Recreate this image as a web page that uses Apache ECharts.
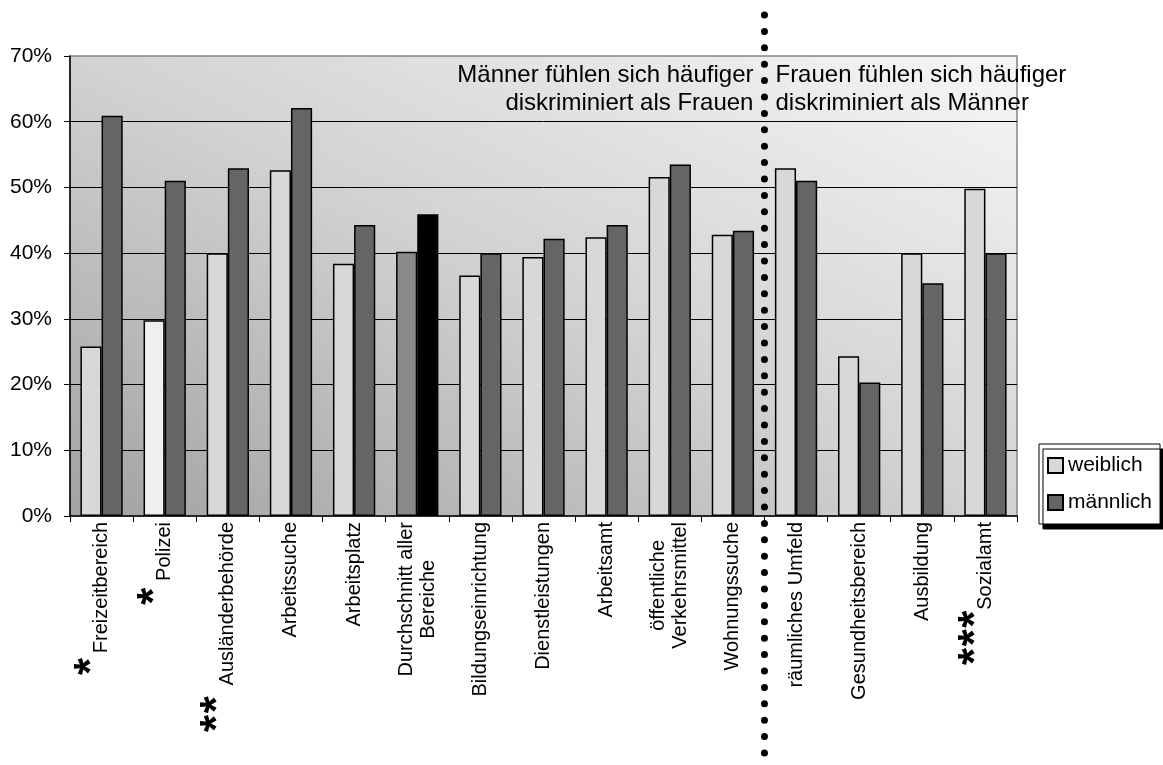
<!DOCTYPE html>
<html>
<head>
<meta charset="utf-8">
<script src="https://cdn.jsdelivr.net/npm/echarts@6/dist/echarts.min.js"></script>
<style>
  html, body { margin: 0; padding: 0; background: #fff; }
  #chart { width: 1163px; height: 765px; }
</style>
</head>
<body>
<div id="chart"></div>
<script>
// Erlebte Diskriminierung nach Bereich und Geschlecht (Anteil in %)
const categories = [
  'Freizeitbereich', 'Polizei', 'Ausländerbehörde', 'Arbeitssuche', 'Arbeitsplatz',
  'Durchschnitt aller\nBereiche', 'Bildungseinrichtung', 'Dienstleistungen', 'Arbeitsamt',
  'öffentliche\nVerkehrsmittel', 'Wohnungssuche', 'räumliches Umfeld',
  'Gesundheitsbereich', 'Ausbildung', 'Sozialamt'
];
const weiblich  = [25.8, 29.8, 40.0, 52.6, 38.4, 40.2, 36.6, 39.4, 42.4, 51.6, 42.8, 52.9, 24.3, 40.0, 49.8];
const maennlich = [60.9, 51.0, 52.9, 62.1, 44.3, 45.9, 40.0, 42.2, 44.3, 53.5, 43.4, 51.0, 20.3, 35.4, 40.0];
// Signifikanzsterne je Bereich
const sterne = [1, 1, 2, 0, 0, 0, 0, 0, 0, 0, 0, 0, 0, 0, 3];
const yTicks = [0, 10, 20, 30, 40, 50, 60, 70];
const hinweisLinks = ['Männer fühlen sich häufiger', 'diskriminiert als Frauen'];
const hinweisRechts = ['Frauen fühlen sich häufiger', 'diskriminiert als Männer'];

const FONT = "'Liberation Sans', Arial, sans-serif";
const cWeiblich = '#d8d8d8';
const cMaennlich = '#656565';
const idxSchnitt = 5;
const idxPolizei = 1;
const trennIndex = 10; // Trennlinie zwischen Index 10 und 11

// gap between the stars and the label text, per category
const sternAbstand = { 0: 4, 1: 6, 2: 10, 14: 0 };

function labelFormatter(value, index) {
  if (value.indexOf('\n') >= 0) {
    return value.split('\n').map(function (l) { return '{c|' + l + '}'; }).join('\n');
  }
  const n = sterne[index] || 0;
  let s = '';
  for (let k = 0; k < n; k++) {
    s += (k === n - 1) ? '{s' + index + '|*}' : '{s|*}';
  }
  return s + '{n|' + value + '}';
}

const sternStil = { fontSize: 44, fontWeight: 'bold', fontFamily: FONT, color: '#000' };
const rich = {
  n: { fontSize: 20, fontFamily: FONT, color: '#000' },
  c: { fontSize: 20, fontFamily: FONT, color: '#000', align: 'center', lineHeight: 22 },
  s: Object.assign({ padding: [0, 0.75, 18, 0.75] }, sternStil)
};
Object.keys(sternAbstand).forEach(function (i) {
  rich['s' + i] = Object.assign({ padding: [0, 0.75 + sternAbstand[i], 18, 0.75] }, sternStil);
});

const dataW = weiblich.map(function (v, i) {
  if (i === idxPolizei) return { value: v, itemStyle: { color: '#efefef' } };
  if (i === idxSchnitt) return { value: v, itemStyle: { color: '#8a8a8a' } };
  return v;
});
const dataM = maennlich.map(function (v, i) {
  if (i === idxSchnitt) return { value: v, itemStyle: { color: '#000000' } };
  return v;
});

const chart = echarts.init(document.getElementById('chart'), null, { renderer: 'canvas' });

chart.setOption({
  animation: false,
  backgroundColor: '#ffffff',
  textStyle: { fontFamily: FONT, color: '#000' },
  grid: {
    left: 70, right: 146, top: 56, bottom: 249,
    show: true,
    borderColor: '#858585',
    borderWidth: 1.5,
    backgroundColor: {
      type: 'linear', x: 0.309, y: 1.309, x2: 0.691, y2: -0.309,
      colorStops: [
        { offset: 0, color: '#a2a2a2' },
        { offset: 0.5, color: '#d2d2d2' },
        { offset: 1, color: '#f7f7f7' }
      ]
    }
  },
  legend: {
    data: ['weiblich', 'männlich'],
    orient: 'vertical',
    left: 1039, top: 444,
    itemWidth: 15, itemHeight: 15, itemGap: 16,
    padding: [11, 8, 11, 8],
    icon: 'rect',
    backgroundColor: '#ffffff',
    borderColor: '#000', borderWidth: 1,
    shadowColor: '#000', shadowBlur: 0, shadowOffsetX: 4, shadowOffsetY: 5,
    textStyle: { fontSize: 21, fontFamily: FONT, color: '#000' }
  },
  xAxis: {
    type: 'category',
    data: categories,
    axisLine: { show: true, lineStyle: { color: '#000', width: 1.5 } },
    axisTick: { show: true, length: 6, alignWithLabel: false, lineStyle: { color: '#000' } },
    axisLabel: {
      interval: 0, rotate: 90, margin: 6,
      fontSize: 20, fontFamily: FONT, color: '#000',
      formatter: labelFormatter, rich: rich
    },
    splitLine: { show: false }
  },
  yAxis: {
    type: 'value',
    min: yTicks[0], max: yTicks[yTicks.length - 1], interval: 10,
    axisLine: { show: true, lineStyle: { color: '#000', width: 1.5 } },
    axisTick: { show: true, length: 6, inside: false, lineStyle: { color: '#000' } },
    axisLabel: { margin: 18, fontSize: 21, fontFamily: FONT, color: '#000', formatter: '{value}%' },
    splitLine: { show: true, showMinLine: false, showMaxLine: false, lineStyle: { color: '#000', width: 1 } }
  },
  series: [
    {
      name: 'weiblich', type: 'bar', data: dataW,
      barGap: '0%', barCategoryGap: '33%',
      itemStyle: { color: cWeiblich, borderColor: '#000', borderWidth: 1.5 }
    },
    {
      name: 'männlich', type: 'bar', data: dataM,
      barGap: '0%', barCategoryGap: '33%',
      itemStyle: { color: cMaennlich, borderColor: '#000', borderWidth: 1.5 }
    }
  ]
});

// dotted divider on the category boundary plus the two captions
const xa = chart.convertToPixel({ xAxisIndex: 0 }, trennIndex);
const xb = chart.convertToPixel({ xAxisIndex: 0 }, trennIndex + 1);
const xT = (xa + xb) / 2;

chart.setOption({
  graphic: [
    {
      type: 'line', z: 100,
      shape: { x1: xT, y1: 15, x2: xT, y2: 760 },
      style: { stroke: '#000', lineWidth: 7, lineDash: [0, 16.4], lineCap: 'round' }
    },
    {
      type: 'text', z: 100,
      style: {
        text: hinweisLinks.join('\n'), x: xT - 11, y: 61,
        align: 'right', verticalAlign: 'top',
        fontSize: 24, fontFamily: FONT, lineHeight: 28, fill: '#000'
      }
    },
    {
      type: 'text', z: 100,
      style: {
        text: hinweisRechts.join('\n'), x: xT + 11, y: 61,
        align: 'left', verticalAlign: 'top',
        fontSize: 24, fontFamily: FONT, lineHeight: 28, fill: '#000'
      }
    }
  ]
});
</script>
</body>
</html>
